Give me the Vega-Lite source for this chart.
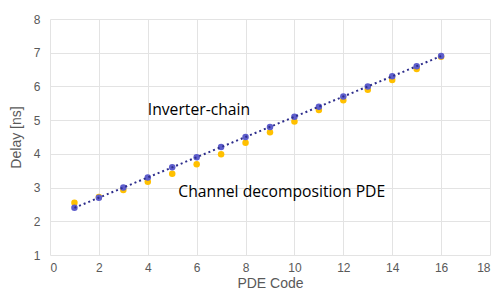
{
  "$schema": "https://vega.github.io/schema/vega-lite/v6.json",
  "autosize": "none",
  "width": 440,
  "height": 236,
  "padding": {"left": 50, "top": 19, "right": 7, "bottom": 39},
  "background": "white",
  "config": {"view": {"stroke": null}},
  "datasets": {
    "pts": [
      {"code": 1, "series": "Channel decomposition PDE", "delay": 2.55},
      {"code": 2, "series": "Channel decomposition PDE", "delay": 2.72},
      {"code": 3, "series": "Channel decomposition PDE", "delay": 2.93},
      {"code": 4, "series": "Channel decomposition PDE", "delay": 3.17},
      {"code": 5, "series": "Channel decomposition PDE", "delay": 3.41},
      {"code": 6, "series": "Channel decomposition PDE", "delay": 3.69},
      {"code": 7, "series": "Channel decomposition PDE", "delay": 3.99},
      {"code": 8, "series": "Channel decomposition PDE", "delay": 4.33},
      {"code": 9, "series": "Channel decomposition PDE", "delay": 4.64},
      {"code": 10, "series": "Channel decomposition PDE", "delay": 4.96},
      {"code": 11, "series": "Channel decomposition PDE", "delay": 5.3},
      {"code": 12, "series": "Channel decomposition PDE", "delay": 5.59},
      {"code": 13, "series": "Channel decomposition PDE", "delay": 5.9},
      {"code": 14, "series": "Channel decomposition PDE", "delay": 6.19},
      {"code": 15, "series": "Channel decomposition PDE", "delay": 6.52},
      {"code": 16, "series": "Channel decomposition PDE", "delay": 6.88},
      {"code": 1, "series": "Inverter-chain", "delay": 2.4},
      {"code": 2, "series": "Inverter-chain", "delay": 2.7},
      {"code": 3, "series": "Inverter-chain", "delay": 3.0},
      {"code": 4, "series": "Inverter-chain", "delay": 3.3},
      {"code": 5, "series": "Inverter-chain", "delay": 3.6},
      {"code": 6, "series": "Inverter-chain", "delay": 3.9},
      {"code": 7, "series": "Inverter-chain", "delay": 4.2},
      {"code": 8, "series": "Inverter-chain", "delay": 4.5},
      {"code": 9, "series": "Inverter-chain", "delay": 4.8},
      {"code": 10, "series": "Inverter-chain", "delay": 5.1},
      {"code": 11, "series": "Inverter-chain", "delay": 5.4},
      {"code": 12, "series": "Inverter-chain", "delay": 5.7},
      {"code": 13, "series": "Inverter-chain", "delay": 6.0},
      {"code": 14, "series": "Inverter-chain", "delay": 6.3},
      {"code": 15, "series": "Inverter-chain", "delay": 6.6},
      {"code": 16, "series": "Inverter-chain", "delay": 6.9}
    ],
    "labels": [
      {"code": 4.0, "delay": 5.3, "label": "Inverter-chain"},
      {"code": 5.25, "delay": 2.88, "label": "Channel decomposition PDE"}
    ]
  },
  "layer": [
    {
      "data": {"name": "pts"},
      "transform": [{"filter": "datum.series === 'Channel decomposition PDE'"}],
      "mark": {"type": "circle", "size": 42, "opacity": 1, "color": "#FFC000"},
      "encoding": {
        "x": {
          "field": "code", "type": "quantitative",
          "scale": {"domain": [0, 18], "nice": false},
          "axis": {
            "title": "PDE Code", "values": [0, 2, 4, 6, 8, 10, 12, 14, 16, 18], "tickCount": 20, "format": "d",
            "grid": true, "gridColor": "#e3e3e3", "domain": false, "ticks": false,
            "labelFont": "Liberation Sans", "labelFontSize": 12, "labelColor": "#595959", "labelPadding": 7, "labelOverlap": false,
            "titleFont": "Liberation Sans", "titleFontSize": 14, "titleFontWeight": "normal", "titleColor": "#595959", "titlePadding": 3
          }
        },
        "y": {
          "field": "delay", "type": "quantitative",
          "scale": {"domain": [1, 8], "nice": false, "zero": false},
          "axis": {
            "title": "Delay [ns]", "values": [1, 2, 3, 4, 5, 6, 7, 8], "tickCount": 10, "format": "d",
            "grid": true, "gridColor": "#e3e3e3", "domain": false, "ticks": false,
            "labelFont": "Liberation Sans", "labelFontSize": 12, "labelColor": "#595959", "labelPadding": 10, "labelOverlap": false,
            "titleFont": "Liberation Sans", "titleFontSize": 14, "titleFontWeight": "normal", "titleColor": "#595959", "titlePadding": 10
          }
        }
      }
    },
    {
      "data": {"name": "pts"},
      "transform": [{"filter": "datum.series === 'Inverter-chain'"}],
      "mark": {"type": "circle", "size": 42, "opacity": 1, "color": "#5E5ECC"},
      "encoding": {
        "x": {"field": "code", "type": "quantitative"},
        "y": {"field": "delay", "type": "quantitative"}
      }
    },
    {
      "data": {"name": "pts"},
      "transform": [{"filter": "datum.series === 'Inverter-chain'"}],
      "mark": {"type": "line", "color": "#2E2E8C", "strokeWidth": 2, "strokeDash": [2, 3]},
      "encoding": {
        "x": {"field": "code", "type": "quantitative"},
        "y": {"field": "delay", "type": "quantitative"}
      }
    },
    {
      "data": {"name": "labels"},
      "mark": {"type": "text", "align": "left", "baseline": "middle", "font": "Open Sans", "fontSize": 15.7, "color": "#000000"},
      "encoding": {
        "x": {"field": "code", "type": "quantitative"},
        "y": {"field": "delay", "type": "quantitative"},
        "text": {"field": "label"}
      }
    }
  ]
}
